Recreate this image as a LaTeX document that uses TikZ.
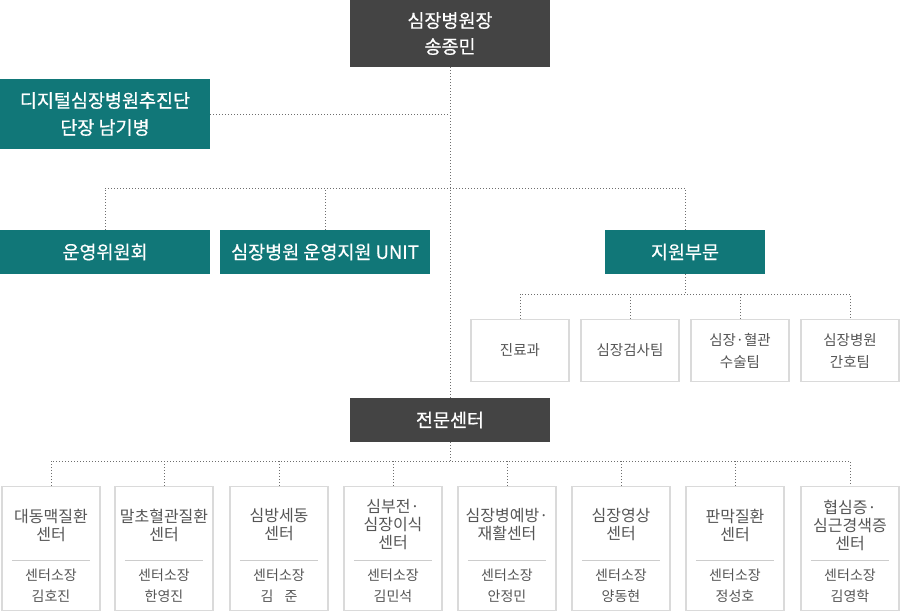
\documentclass[tikz,border=0pt]{standalone}
\usepackage{fontspec}
\setmainfont{Noto Sans CJK KR}
\newfontfamily\headfont{Noto Sans CJK KR}[FakeBold=0.6]
\usepackage{tikz}
\usetikzlibrary{positioning}
\definecolor{org_teal}{RGB}{17,119,120}
\definecolor{org_dark}{RGB}{68,68,68}
\definecolor{org_line}{RGB}{110,110,110}
\definecolor{org_border}{RGB}{218,218,218}
\definecolor{org_text}{RGB}{85,85,85}
\definecolor{org_sep}{RGB}{204,204,204}

\begin{document}
\begin{tikzpicture}[x=1pt, y=-1pt,
    headbox/.style={fill=org_dark, text=white, align=center, inner sep=0pt,
      font=\headfont\fontsize{18.5}{26}\selectfont},
    tealbox/.style={fill=org_teal, text=white, align=center, inner sep=0pt,
      font=\headfont\fontsize{18.5}{27}\selectfont},
    teambox/.style={draw=org_border, line width=1.2pt, fill=white, text=org_text,
      align=center, inner sep=0pt, minimum width=98pt, minimum height=62pt,
      font=\fontsize{14.5}{22}\selectfont},
    centerbox/.style={draw=org_border, line width=1.2pt, inner sep=0pt,
      minimum width=98pt, minimum height=124pt},
    ctitle/.style={text=org_text, align=center, inner sep=0pt,
      font=\fontsize{16}{18}\selectfont},
    cname/.style={text=org_text, align=center, inner sep=0pt,
      minimum width=78pt, minimum height=50pt, font=\fontsize{14}{21}\selectfont},
    link/.style={draw=org_line, line width=0.8pt, dash pattern=on 0.8pt off 2.2pt},
    sepline/.style={draw=org_sep, line width=0.8pt}]
  \useasboundingbox (0,0) rectangle (900,612);

  % top
  \node[headbox, minimum width=200pt, minimum height=67pt]
    (head) at (450,33.5) {심장병원장\\송종민};
  \node[tealbox, minimum width=210pt, minimum height=70pt]
    (digital) at (105,114) {디지털심장병원추진단\\단장 남기병};

  % second row
  \node[tealbox, minimum width=210pt, minimum height=44pt]
    (committee) at (105,252) {운영위원회};
  \node[tealbox, minimum width=210pt, minimum height=44pt]
    (unit) at (325,252) {심장병원 운영지원 UNIT};
  \node[tealbox, minimum width=160pt, minimum height=44pt]
    (support) at (685,252) {지원부문};

  % support teams
  \node[teambox] (team1) at (520,350.5) {진료과};
  \node[teambox] (team2) at (630,350.5) {심장검사팀};
  \node[teambox] (team3) at (740,350.5) {심장·혈관\\수술팀};
  \node[teambox] (team4) at (850,350.5) {심장병원\\간호팀};

  % centers
  \node[headbox, minimum width=200pt, minimum height=44pt]
    (special) at (450,420) {전문센터};

  \node[centerbox] (c1) at (51,548.5) {};
  \node[ctitle] at (51,525) {대동맥질환\\센터};
  \node[cname] (n1) at (51,585.5) {센터소장\\김호진};
  \node[centerbox] (c2) at (164,548.5) {};
  \node[ctitle] at (164,525) {말초혈관질환\\센터};
  \node[cname] (n2) at (164,585.5) {센터소장\\한영진};
  \node[centerbox] (c3) at (279,548.5) {};
  \node[ctitle] at (279,525) {심방세동\\센터};
  \node[cname] (n3) at (279,585.5) {센터소장\\김\hspace{0.8em}준};
  \node[centerbox] (c4) at (393,548.5) {};
  \node[ctitle] at (393,525) {심부전·\\심장이식\\센터};
  \node[cname] (n4) at (393,585.5) {센터소장\\김민석};
  \node[centerbox] (c5) at (507,548.5) {};
  \node[ctitle] at (507,525) {심장병예방·\\재활센터};
  \node[cname] (n5) at (507,585.5) {센터소장\\안정민};
  \node[centerbox] (c6) at (621,548.5) {};
  \node[ctitle] at (621,525) {심장영상\\센터};
  \node[cname] (n6) at (621,585.5) {센터소장\\양동현};
  \node[centerbox] (c7) at (735,548.5) {};
  \node[ctitle] at (735,525) {판막질환\\센터};
  \node[cname] (n7) at (735,585.5) {센터소장\\정성호};
  \node[centerbox] (c8) at (850,548.5) {};
  \node[ctitle] at (850,525) {협심증·\\심근경색증\\센터};
  \node[cname] (n8) at (850,585.5) {센터소장\\김영학};

  \draw[sepline] (n1.north west) -- (n1.north east);
  \draw[sepline] (n2.north west) -- (n2.north east);
  \draw[sepline] (n3.north west) -- (n3.north east);
  \draw[sepline] (n4.north west) -- (n4.north east);
  \draw[sepline] (n5.north west) -- (n5.north east);
  \draw[sepline] (n6.north west) -- (n6.north east);
  \draw[sepline] (n7.north west) -- (n7.north east);
  \draw[sepline] (n8.north west) -- (n8.north east);

  % dotted connectors
  \coordinate (bus1) at (450,188);
  \coordinate (bus2) at (685,294);
  \coordinate (bus3) at (450,461);
  \draw[link] (head.south) -- (special.north);
  \draw[link] (digital.east) -- (digital.east -| head.south);
  \draw[link] (committee.north) |- (bus1) -| (support.north);
  \draw[link] (unit.north) -- (unit.north |- bus1);
  \draw[link] (support.south) -- (bus2);
  \draw[link] (team1.north) |- (bus2) -| (team4.north);
  \draw[link] (team2.north) -- (team2.north |- bus2);
  \draw[link] (team3.north) -- (team3.north |- bus2);
  \draw[link] (special.south) -- (bus3);
  \draw[link] (c1.north) |- (bus3) -| (c8.north);
  \draw[link] (c2.north) -- (c2.north |- bus3);
  \draw[link] (c3.north) -- (c3.north |- bus3);
  \draw[link] (c4.north) -- (c4.north |- bus3);
  \draw[link] (c5.north) -- (c5.north |- bus3);
  \draw[link] (c6.north) -- (c6.north |- bus3);
  \draw[link] (c7.north) -- (c7.north |- bus3);
\end{tikzpicture}
\end{document}
